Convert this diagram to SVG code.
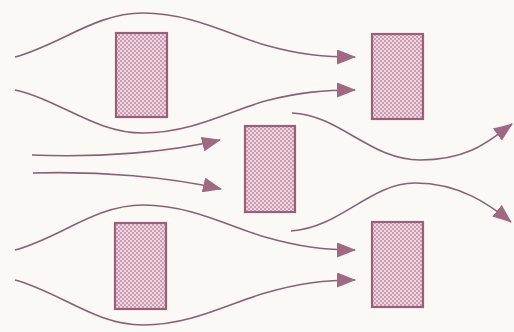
<svg xmlns="http://www.w3.org/2000/svg" width="514" height="332" viewBox="0 0 514 332">
  <style>
    .block { fill: url(#dots); stroke: #9c5f7a; stroke-width: 2.2; }
    .flow { fill: none; stroke: #8e5f74; stroke-width: 1.6; marker-end: url(#arrow); }
    .plain { fill: none; stroke: #8e5f74; stroke-width: 1.6; }
  </style>
  <defs>
    <pattern id="dots" width="4" height="4" patternUnits="userSpaceOnUse">
      <rect width="4" height="4" fill="#ecd6e0"/>
      <rect width="2" height="2" fill="#cc9cb3"/>
      <rect x="2" y="2" width="2" height="2" fill="#cc9cb3"/>
    </pattern>
    <marker id="arrow" markerWidth="19" markerHeight="15" refX="18" refY="7.5" orient="auto" markerUnits="userSpaceOnUse">
      <path d="M0,0 L19,7.5 L0,15 Z" fill="#a06882"/>
    </marker>
  </defs>
  <rect width="514" height="332" fill="#fbf9f6"/>
  <g id="connectors">
    <path class="plain" d="M15,57 C60,45 95,13 143,13 S230,35 265,45"/>
    <path class="flow" d="M265,45 C300,55 325,57 355,57"/>
    <path class="plain" d="M15,90 C60,100 95,133 143,133 S230,111 265,101"/>
    <path class="flow" d="M265,101 C300,92 325,90 355,90"/>
    <path class="flow" d="M32,155 C100,158 170,152 220,140"/>
    <path class="flow" d="M33,173 C100,171 170,177 221,189"/>
    <path class="plain" d="M15,250 C60,238 95,205 143,205 S230,227 265,237"/>
    <path class="flow" d="M265,237 C300,247 325,250 355,250"/>
    <path class="plain" d="M15,280 C60,292 95,325 143,325 S230,303 265,293"/>
    <path class="flow" d="M265,293 C300,283 325,280 355,280"/>
    <path class="flow" d="M292,113 C340,115 370,160 420,160 S490,140 512,124"/>
    <path class="flow" d="M291,231 C340,228 370,183 415,183 S490,205 511,222"/>
  </g>
  <g id="block-top-left"><rect class="block" x="116" y="33" width="51" height="84"/></g>
  <g id="block-top-right"><rect class="block" x="372" y="34" width="51" height="85"/></g>
  <g id="block-middle"><rect class="block" x="245" y="126" width="50" height="86"/></g>
  <g id="block-bottom-left"><rect class="block" x="115" y="223" width="51" height="86"/></g>
  <g id="block-bottom-right"><rect class="block" x="372" y="222" width="51" height="85"/></g>
</svg>
